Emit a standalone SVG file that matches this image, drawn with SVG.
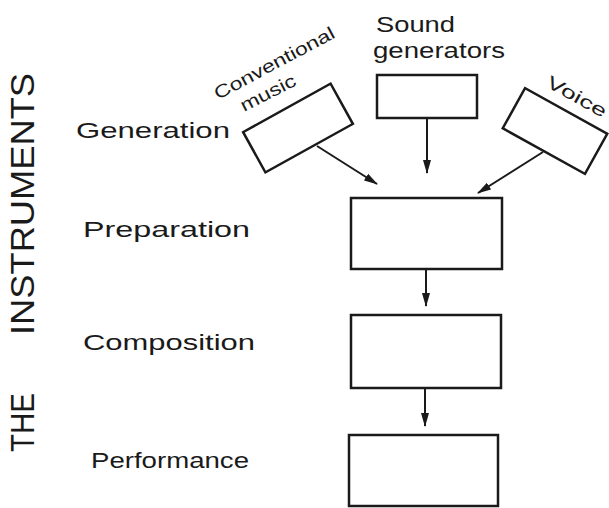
<svg xmlns="http://www.w3.org/2000/svg" width="609" height="508" viewBox="0 0 609 508">
<defs>
<style>
.box{fill:#fff;stroke:#1a1a1a;stroke-width:2.5}
.lbl{font-family:"Liberation Sans","DejaVu Sans",sans-serif;fill:#1a1a1a;font-size:22px}
.sm{font-family:"Liberation Sans","DejaVu Sans",sans-serif;fill:#1a1a1a;font-size:18px}
.big{font-family:"Liberation Sans","DejaVu Sans",sans-serif;fill:#1a1a1a;font-size:34px}
.conn{stroke:#1a1a1a;stroke-width:2;fill:none;marker-end:url(#ah)}
</style>
<marker id="ah" viewBox="0 0 14 10" refX="13" refY="5" markerWidth="14" markerHeight="10" markerUnits="userSpaceOnUse" orient="auto">
<path d="M0,1 L14,5 L0,9 Z" fill="#1a1a1a"/>
</marker>
</defs>
<rect width="609" height="508" fill="#fff"/>

<g id="title">
<text class="big" transform="translate(34,335) rotate(-90)" textLength="262" lengthAdjust="spacingAndGlyphs">INSTRUMENTS</text>
<text class="big" transform="translate(34,452) rotate(-90)" textLength="59" lengthAdjust="spacingAndGlyphs">THE</text>
</g>

<g id="stage-labels">
<text class="lbl" x="76" y="138" textLength="154" lengthAdjust="spacingAndGlyphs">Generation</text>
<text class="lbl" x="83" y="237" textLength="167" lengthAdjust="spacingAndGlyphs">Preparation</text>
<text class="lbl" x="83" y="350" textLength="172" lengthAdjust="spacingAndGlyphs">Composition</text>
<text class="lbl" x="91" y="468" textLength="158" lengthAdjust="spacingAndGlyphs">Performance</text>
</g>

<g id="conventional-music">
<rect class="box" x="-50" y="-23" width="100" height="46" transform="translate(298,128) rotate(-29)"/>
<text class="sm" transform="translate(218,100) rotate(-28)" textLength="134" lengthAdjust="spacingAndGlyphs">Conventional</text>
<text class="sm" transform="translate(244,112) rotate(-27)" textLength="60" lengthAdjust="spacingAndGlyphs">music</text>
</g>

<g id="sound-generators">
<rect class="box" x="377" y="75" width="100" height="43"/>
<text class="lbl" x="376" y="32" textLength="79" lengthAdjust="spacingAndGlyphs">Sound</text>
<text class="lbl" x="373" y="58" textLength="132" lengthAdjust="spacingAndGlyphs">generators</text>
</g>

<g id="voice">
<rect class="box" x="-47" y="-23" width="94" height="46" transform="translate(555,131) rotate(29)"/>
<text class="sm" transform="translate(545,86) rotate(29)" textLength="66" lengthAdjust="spacingAndGlyphs">Voice</text>
</g>

<g id="preparation"><rect class="box" x="351" y="198" width="151" height="71"/></g>
<g id="composition"><rect class="box" x="351" y="315" width="150" height="73"/></g>
<g id="performance"><rect class="box" x="349" y="435" width="149" height="71"/></g>

<g id="connectors">
<line class="conn" x1="317" y1="146" x2="377" y2="184"/>
<line class="conn" x1="427" y1="118" x2="427" y2="173"/>
<line class="conn" x1="543" y1="152" x2="478" y2="193"/>
<line class="conn" x1="426" y1="269" x2="426" y2="306"/>
<line class="conn" x1="425" y1="388" x2="425" y2="426"/>
</g>
</svg>
